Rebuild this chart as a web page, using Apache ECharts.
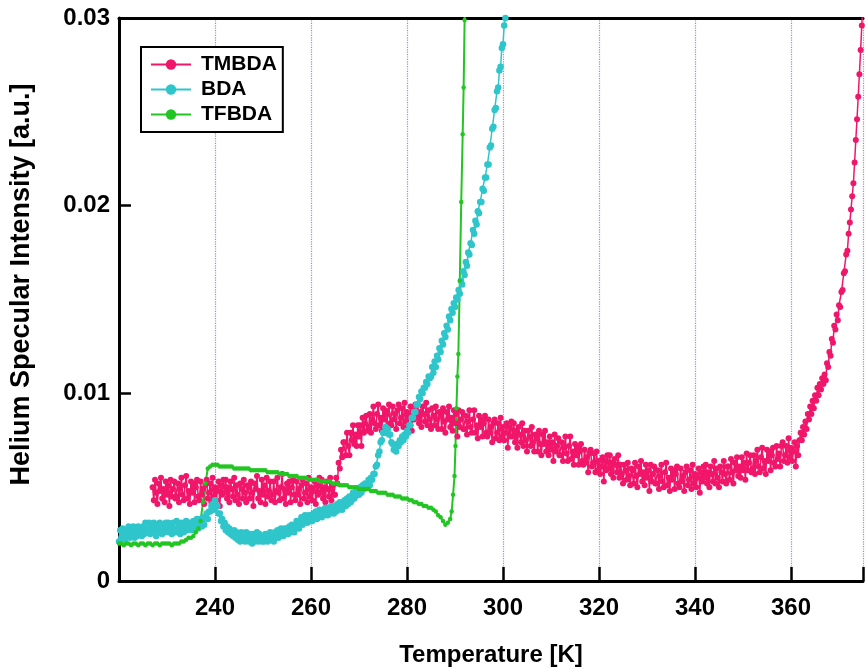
<!DOCTYPE html>
<html><head><meta charset="utf-8">
<script src="https://cdn.jsdelivr.net/npm/echarts@6/dist/echarts.min.js"></script>
<style>html,body{margin:0;padding:0;background:#fff}#c{width:866px;height:672px}</style>
</head><body><div id="c"></div>
<script>
// ---- data (intensity values in units of 1e-4 a.u.) ----
const seriesNames = ['TMBDA', 'BDA', 'TFBDA'];
const xTickValues = [240, 260, 280, 300, 320, 340, 360];
const yTickLabels = ['0', '0.01', '0.02', '0.03'];
const UNIT = 1e-4;

// TMBDA: temperatures from 227 K in 0.25 K steps (one row = 5 K)
const tmbdaStart = 227, tmbdaStep = 0.25;
const tmbdaValues = [
  50,43,54,47,41,52,48,55,44,49,42,53,46,51,40,54,45,49,53,44,
  45,52,42,49,55,46,43,51,56,44,48,41,53,47,52,42,50,54,45,43,
  53,46,49,41,51,54,44,47,52,42,55,45,50,43,48,53,40,51,46,54,
  47,54,44,50,42,53,49,45,55,43,51,46,41,52,49,44,54,47,42,51,
  50,44,53,47,40,52,49,56,44,48,42,54,46,51,41,55,45,48,53,43,
  46,53,42,48,55,47,43,50,57,44,49,41,52,47,53,42,50,54,46,43,
  53,46,49,41,51,54,44,47,52,42,55,45,50,43,48,53,41,51,46,55,
  47,54,44,50,42,53,49,45,55,43,51,46,46,55,52,63,60,70,66,74,
  74,67,79,72,67,79,75,83,73,78,72,83,77,83,72,87,79,84,88,80,
  82,89,79,86,93,84,81,89,94,83,87,80,92,86,91,81,89,94,84,83,
  93,86,89,81,91,94,84,87,92,82,95,85,90,83,88,93,80,91,86,94,
  87,94,84,90,82,93,89,85,95,83,91,86,81,92,88,83,93,86,81,90,
  88,81,92,85,79,90,86,93,82,87,80,91,84,89,77,91,82,86,90,81,
  81,88,78,85,91,82,79,86,91,79,83,76,88,82,86,77,84,88,79,77,
  86,79,82,74,84,86,76,79,84,75,87,77,82,75,79,84,71,82,77,85,
  77,84,74,80,71,82,78,74,84,72,80,75,69,80,77,72,82,74,69,78,
  76,69,80,73,67,78,73,80,69,74,67,77,70,74,64,78,69,72,76,67,
  67,74,64,71,77,68,64,72,77,65,69,62,73,67,71,62,69,73,64,62,
  70,63,66,58,68,70,61,63,68,58,69,59,64,57,61,66,53,64,59,67,
  60,67,57,63,55,65,62,58,67,55,62,57,52,62,59,54,63,56,51,60,
  59,52,63,56,50,61,57,64,53,58,51,62,55,59,48,62,53,57,61,52,
  52,59,49,56,62,53,50,58,63,51,55,48,60,54,59,49,57,61,52,50,
  60,53,56,48,58,61,51,54,59,49,62,52,57,50,55,60,47,58,53,61,
  55,62,52,58,50,61,57,53,64,52,60,55,50,61,58,53,64,57,52,61,
  61,54,65,58,52,63,59,66,56,61,55,66,59,63,54,68,59,63,67,58,
  60,67,57,64,70,61,58,66,71,60,64,57,70,64,69,59,67,71,63,61,
  72,65,68,61,72,74,64,67,72,63,76,66,71,64,69,74,61,72,67,75,
  79,75,82,78,85,81,89,86,93,89,96,92,99,96,103,99,105,102,108,105,
  110,107,116,114,122,120,129,127,136,134,142,139,147,146,154,155,164,165,174,176,
  185,191,198,205,212,223,235,246,258,270,283,296,310
];

// BDA: temperatures from 220 K in 0.25 K steps (one row = 5 K)
const bdaStart = 220, bdaStep = 0.25;
const bdaValues = [
  21,27,23,28,25,22,27,24,29,23,27,25,29,23,27,24,29,25,28,24,
  29,25,31,26,28,31,25,30,26,31,28,24,30,26,31,27,25,30,26,31,
  27,31,26,30,25,31,28,26,32,27,30,25,31,27,26,30,32,27,31,28,
  31,27,32,28,30,33,28,32,33,29,34,30,34,36,33,37,37,40,41,38,
  43,40,40,36,36,32,33,29,31,27,29,26,28,25,26,24,27,23,26,22,
  25,21,26,22,25,21,26,23,21,25,22,20,25,21,23,26,21,25,22,21,
  24,21,25,22,21,25,26,22,25,21,26,23,27,23,26,28,25,24,28,25,
  28,25,29,26,30,27,26,30,32,29,28,32,34,30,33,35,32,31,35,32,
  35,32,36,33,37,33,34,38,35,34,38,35,39,36,35,39,36,40,37,36,
  40,37,41,38,42,39,38,42,43,40,44,41,45,42,43,47,44,45,49,46,
  46,50,47,51,49,52,51,50,54,51,55,54,57,57,61,62,67,69,74,75,
  79,79,82,79,81,78,78,74,73,70,71,69,73,72,75,74,77,75,78,77,
  80,79,83,83,87,87,90,90,94,94,98,97,101,100,103,103,106,105,109,108,
  109,114,111,117,114,120,118,124,122,128,126,132,130,136,134,141,139,145,143,148,
  146,151,150,155,153,160,158,165,163,170,168,175,174,180,179,187,185,192,190,197,
  196,202,202,209,208,215,215,222,222,231,232,241,242,251,252,261,263,272,274,284,
  286,296,300
];

// TFBDA: temperatures from 220 K in 0.5 K steps up to 289 K
const tfbdaStart = 220, tfbdaStep = 0.5;
const tfbdaValues = [
  20,20,19,20,20,19,20,20,19,20,
  20,19,20,20,19,20,20,19,20,20,
  20,20,19,20,20,20,21,21,22,23,
  23,24,26,28,32,42,52,60,61,62,
  62,62,61,61,61,61,61,61,60,60,
  60,60,60,60,60,59,59,59,59,59,
  59,59,58,58,58,58,58,57,57,57,
  57,56,56,56,56,55,55,55,55,54,
  54,54,54,54,53,53,53,53,53,52,
  52,52,51,51,51,51,50,50,50,50,
  49,49,49,49,49,48,48,48,47,47,
  47,47,46,46,46,45,45,45,44,44,
  44,43,43,42,42,41,41,40,40,39,
  39,38,37,35,34,32,30,31,33
];
// TFBDA steep rise: [temperature, value]
const tfbdaRiseT = [289.3, 289.6, 289.9, 290.1, 290.3, 290.5, 290.7, 291.0, 291.3, 291.6, 291.8, 292.0, 292.2];
const tfbdaRiseV = [37, 46, 56, 72, 92, 109, 121, 160, 202, 238, 263, 299, 330];

// ---- build point lists ----
function regular(start, step, vals) {
  return vals.map((v, i) => [start + i * step, v * UNIT]);
}
const tmbdaData = regular(tmbdaStart, tmbdaStep, tmbdaValues);
const bdaData = regular(bdaStart, bdaStep, bdaValues);
const tfbdaData = regular(tfbdaStart, tfbdaStep, tfbdaValues)
  .concat(tfbdaRiseT.map((t, i) => [t, tfbdaRiseV[i] * UNIT]));

const colors = ['#f0166a', '#2fc6cb', '#22c522'];
const FONT = 'Liberation Sans, Arial, Helvetica, sans-serif';

const chart = echarts.init(document.getElementById('c'), null, {renderer: 'canvas'});
const mkSeries = (name, data, color, size, lw) => ({
  name, type: 'line', data, symbol: 'circle', symbolSize: size, showSymbol: true,
  itemStyle: {color}, lineStyle: {color, width: lw}, clip: true, animation: false,
  emphasis: {disabled: true}
});

chart.setOption({
  animation: false,
  backgroundColor: '#fff',
  grid: {left: 116, top: 18, right: -1, bottom: 85, containLabel: false},
  legend: {
    orient: 'vertical', left: 141, top: 47, padding: [7, 6, 7, 9],
    borderColor: '#000', borderWidth: 2, backgroundColor: '#fff',
    itemWidth: 40, itemHeight: 13, itemGap: 4,
    lineStyle: {width: 2},
    textStyle: {fontSize: 21, fontWeight: 'bold', color: '#000', fontFamily: FONT, lineHeight: 21, padding: [0, 0, 0, 5]},
    data: seriesNames
  },
  xAxis: [{
    type: 'value', min: 220, max: 375, interval: 20, position: 'bottom',
    axisLine: {show: true, lineStyle: {color: '#000', width: 3}},
    axisTick: {show: true, inside: true, length: 14, lineStyle: {color: '#000', width: 2.5}},
    axisLabel: {
      margin: 15, fontSize: 24, fontWeight: 'bold', color: '#000', fontFamily: FONT,
      formatter: v => xTickValues.indexOf(Math.round(v)) >= 0 && Math.abs(v - Math.round(v)) < 1e-6 ? String(Math.round(v)) : ''
    },
    splitLine: {show: true, lineStyle: {type: 'dotted', color: '#8f8fe0', width: 1.2}},
    name: 'Temperature [K]', nameLocation: 'middle', nameGap: 62,
    nameTextStyle: {fontSize: 24, fontWeight: 'bold', color: '#000', fontFamily: FONT}
  }, {
    type: 'value', min: 220, max: 375, position: 'top',
    axisLine: {show: true, lineStyle: {color: '#000', width: 3}},
    axisTick: {show: false}, axisLabel: {show: false}, splitLine: {show: false}
  }],
  yAxis: {
    type: 'value', min: 0, max: 0.03, interval: 0.01,
    axisLine: {show: true, lineStyle: {color: '#000', width: 3}},
    axisTick: {show: true, inside: true, length: 12, lineStyle: {color: '#000', width: 2.5}},
    axisLabel: {
      margin: 9, fontSize: 24, fontWeight: 'bold', color: '#000', fontFamily: FONT,
      formatter: v => yTickLabels[Math.round(v * 100)] || ''
    },
    splitLine: {show: false},
    name: 'Helium Specular Intensity [a.u.]', nameLocation: 'middle', nameGap: 84,
    nameTextStyle: {fontSize: 27, fontWeight: 'bold', color: '#000', fontFamily: FONT, padding: [0, 0, 0, 30]}
  },
  series: [
    mkSeries('TMBDA', tmbdaData, colors[0], 6, 1.5),
    mkSeries('BDA', bdaData, colors[1], 6.5, 1.5),
    mkSeries('TFBDA', tfbdaData, colors[2], 4.5, 2)
  ]
});
</script>
</body></html>
